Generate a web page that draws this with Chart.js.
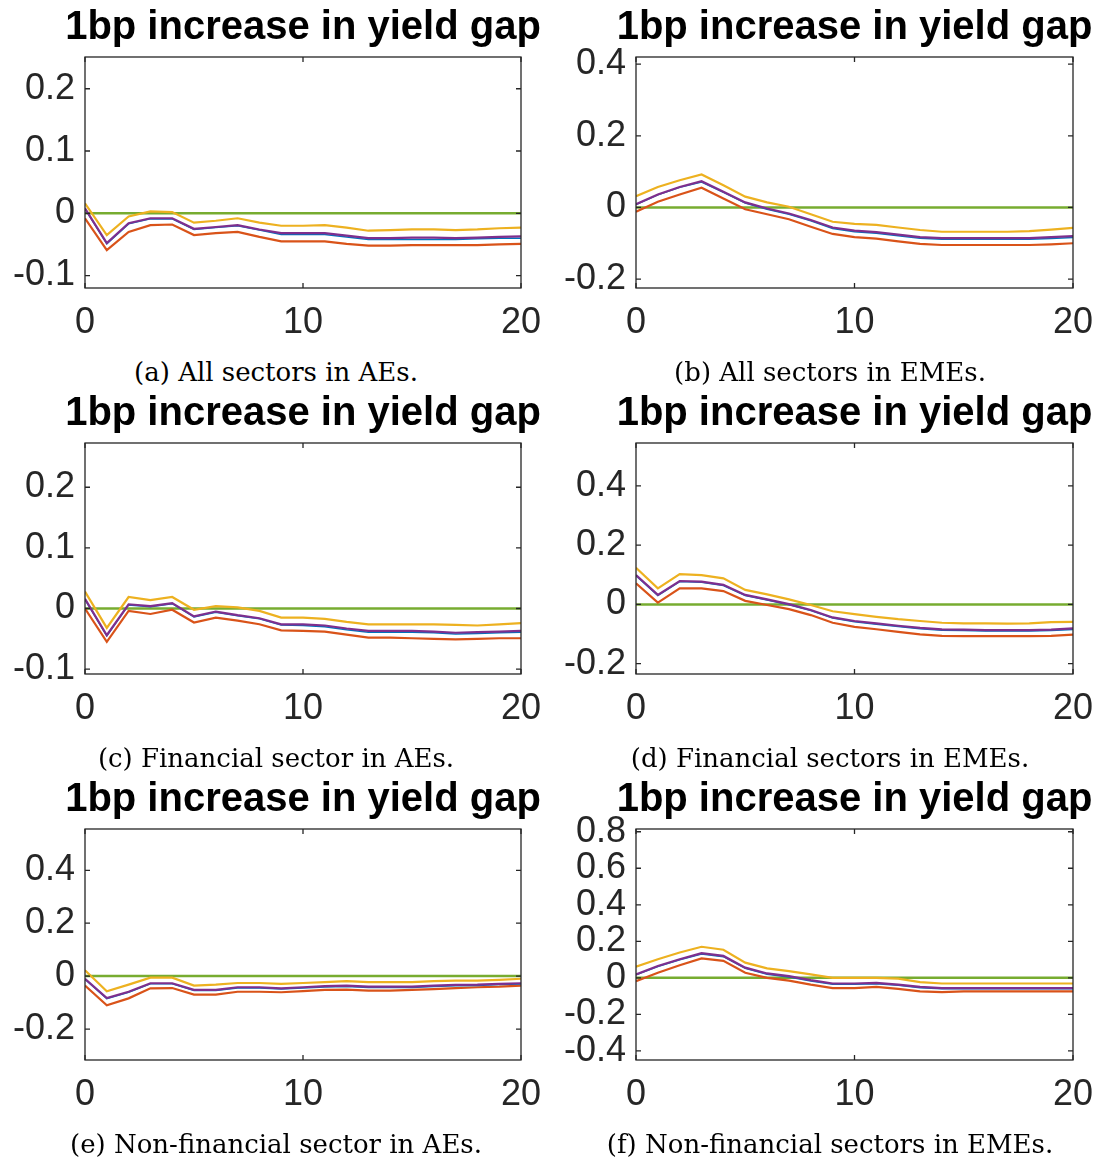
<!DOCTYPE html>
<html>
<head>
<meta charset="utf-8">
<script src="https://cdn.jsdelivr.net/npm/chart.js"></script>
<style>
  html, body { margin:0; padding:0; background:#fff; }
  body { width:1100px; height:1163px; position:relative; overflow:hidden; }
  .panel { position:absolute; width:550px; height:386px; }
  .panel canvas { position:absolute; left:0; top:0; }
  .cap { position:absolute; width:552px; top:355px; height:34px; line-height:34px;
         text-align:center; font-family:"DejaVu Serif", serif; font-size:26px; color:#000; white-space:nowrap; }
  .capL { left:0; }
  .capR { left:4px; }
</style>
</head>
<body>
<div class="panel" style="left:0;top:0"><canvas id="ca" width="606" height="345"></canvas><div class="cap capL" id="capa"></div></div>
<div class="panel" style="left:550px;top:0"><canvas id="cb" width="609" height="345"></canvas><div class="cap capR" id="capb"></div></div>
<div class="panel" style="left:0;top:386px"><canvas id="cc" width="606" height="345"></canvas><div class="cap capL" id="capc"></div></div>
<div class="panel" style="left:550px;top:386px"><canvas id="cd" width="609" height="345"></canvas><div class="cap capR" id="capd"></div></div>
<div class="panel" style="left:0;top:772px"><canvas id="ce" width="606" height="345"></canvas><div class="cap capL" id="cape"></div></div>
<div class="panel" style="left:550px;top:772px"><canvas id="cf" width="609" height="345"></canvas><div class="cap capR" id="capf"></div></div>
<script>
// ---- Data ----
const horizons = [0,1,2,3,4,5,6,7,8,9,10,11,12,13,14,15,16,17,18,19,20];
const xTicks = [0, 10, 20];
const titleText = "1bp increase in yield gap";
const zeroLine = [0,0,0,0,0,0,0,0,0,0,0,0,0,0,0,0,0,0,0,0,0];

// (a) All sectors in AEs
const aUpper = [0.016,-0.035,-0.005,0.003,0.002,-0.015,-0.012,-0.008,-0.015,-0.020,-0.020,-0.019,-0.023,-0.028,-0.027,-0.026,-0.026,-0.027,-0.026,-0.024,-0.023];
const aMean  = [0.008,-0.048,-0.016,-0.008,-0.008,-0.025,-0.022,-0.019,-0.026,-0.032,-0.032,-0.032,-0.036,-0.040,-0.040,-0.039,-0.039,-0.040,-0.039,-0.038,-0.037];
const aMed   = [0.007,-0.049,-0.017,-0.009,-0.009,-0.026,-0.023,-0.020,-0.027,-0.034,-0.034,-0.034,-0.038,-0.042,-0.042,-0.042,-0.042,-0.042,-0.041,-0.040,-0.040];
const aLower = [-0.008,-0.059,-0.030,-0.019,-0.018,-0.035,-0.032,-0.030,-0.038,-0.045,-0.045,-0.045,-0.049,-0.052,-0.052,-0.051,-0.051,-0.051,-0.051,-0.050,-0.049];
const aTicks = [-0.1, 0, 0.1, 0.2];
const aTickLabels = ["-0.1", "0", "0.1", "0.2"];
const aRange = [-0.12, 0.251];
const aCaption = "(a) All sectors in AEs.";

// (b) All sectors in EMEs
const bUpper = [0.031,0.057,0.076,0.092,0.062,0.030,0.014,0.002,-0.019,-0.040,-0.046,-0.049,-0.056,-0.063,-0.068,-0.068,-0.068,-0.068,-0.066,-0.062,-0.057];
const bMean  = [0.009,0.036,0.057,0.073,0.044,0.014,-0.003,-0.017,-0.035,-0.056,-0.065,-0.069,-0.076,-0.083,-0.086,-0.086,-0.086,-0.086,-0.086,-0.083,-0.080];
const bMed   = [0.008,0.035,0.056,0.071,0.042,0.012,-0.005,-0.019,-0.037,-0.059,-0.068,-0.072,-0.079,-0.086,-0.089,-0.089,-0.089,-0.089,-0.089,-0.087,-0.084];
const bLower = [-0.012,0.016,0.036,0.055,0.025,-0.005,-0.019,-0.033,-0.054,-0.074,-0.083,-0.087,-0.095,-0.102,-0.105,-0.105,-0.105,-0.105,-0.105,-0.103,-0.100];
const bTicks = [-0.2, 0, 0.2, 0.4];
const bTickLabels = ["-0.2", "0", "0.2", "0.4"];
const bRange = [-0.225, 0.42];
const bCaption = "(b) All sectors in EMEs.";

// (c) Financial sector in AEs
const cUpper = [0.028,-0.032,0.019,0.014,0.019,-0.002,0.004,0.002,-0.004,-0.015,-0.015,-0.017,-0.022,-0.026,-0.026,-0.026,-0.026,-0.027,-0.028,-0.026,-0.024];
const cMean  = [0.016,-0.044,0.007,0.004,0.009,-0.013,-0.005,-0.011,-0.016,-0.026,-0.026,-0.028,-0.033,-0.037,-0.037,-0.037,-0.038,-0.040,-0.039,-0.038,-0.037];
const cMed   = [0.015,-0.045,0.006,0.003,0.008,-0.014,-0.006,-0.012,-0.017,-0.027,-0.028,-0.030,-0.035,-0.039,-0.039,-0.039,-0.040,-0.042,-0.041,-0.040,-0.039];
const cLower = [0.000,-0.055,-0.004,-0.009,-0.002,-0.023,-0.015,-0.020,-0.026,-0.036,-0.037,-0.038,-0.043,-0.048,-0.048,-0.049,-0.050,-0.051,-0.050,-0.049,-0.049];
const cTicks = [-0.1, 0, 0.1, 0.2];
const cTickLabels = ["-0.1", "0", "0.1", "0.2"];
const cRange = [-0.108, 0.273];
const cCaption = "(c) Financial sector in AEs.";

// (d) Financial sectors in EMEs
const dUpper = [0.124,0.054,0.102,0.099,0.088,0.049,0.034,0.017,-0.002,-0.023,-0.033,-0.042,-0.050,-0.056,-0.062,-0.064,-0.064,-0.065,-0.064,-0.060,-0.059];
const dMean  = [0.099,0.032,0.079,0.077,0.066,0.032,0.017,0.001,-0.019,-0.044,-0.056,-0.064,-0.072,-0.079,-0.084,-0.085,-0.087,-0.087,-0.087,-0.085,-0.081];
const dMed   = [0.097,0.030,0.077,0.075,0.064,0.030,0.015,-0.001,-0.021,-0.046,-0.059,-0.067,-0.075,-0.082,-0.087,-0.088,-0.090,-0.090,-0.090,-0.088,-0.085];
const dLower = [0.071,0.006,0.054,0.054,0.045,0.012,-0.002,-0.016,-0.036,-0.062,-0.076,-0.084,-0.093,-0.101,-0.106,-0.107,-0.107,-0.107,-0.107,-0.106,-0.102];
const dTicks = [-0.2, 0, 0.2, 0.4];
const dTickLabels = ["-0.2", "0", "0.2", "0.4"];
const dRange = [-0.235, 0.545];
const dCaption = "(d) Financial sectors in EMEs.";

// (e) Non-financial sector in AEs
const eUpper = [0.022,-0.057,-0.032,-0.006,-0.006,-0.036,-0.032,-0.026,-0.026,-0.029,-0.026,-0.023,-0.019,-0.023,-0.023,-0.023,-0.019,-0.017,-0.017,-0.014,-0.010];
const eMean  = [-0.010,-0.083,-0.059,-0.027,-0.027,-0.052,-0.052,-0.042,-0.042,-0.046,-0.042,-0.038,-0.036,-0.040,-0.040,-0.040,-0.036,-0.033,-0.032,-0.029,-0.027];
const eMed   = [-0.012,-0.085,-0.061,-0.029,-0.029,-0.054,-0.054,-0.045,-0.045,-0.049,-0.045,-0.041,-0.039,-0.043,-0.043,-0.043,-0.039,-0.036,-0.035,-0.032,-0.030];
const eLower = [-0.036,-0.110,-0.084,-0.046,-0.045,-0.070,-0.070,-0.059,-0.059,-0.061,-0.057,-0.052,-0.051,-0.055,-0.055,-0.052,-0.049,-0.045,-0.042,-0.040,-0.036];
const eTicks = [-0.2, 0, 0.2, 0.4];
const eTickLabels = ["-0.2", "0", "0.2", "0.4"];
const eRange = [-0.317, 0.556];
const eCaption = "(e) Non-financial sector in AEs.";

// (f) Non-financial sectors in EMEs
const fUpper = [0.061,0.102,0.139,0.170,0.154,0.083,0.052,0.037,0.019,0.000,0.000,0.000,-0.004,-0.024,-0.031,-0.031,-0.031,-0.031,-0.031,-0.031,-0.031];
const fMean  = [0.019,0.065,0.102,0.135,0.120,0.056,0.024,0.009,-0.013,-0.031,-0.031,-0.028,-0.037,-0.050,-0.056,-0.056,-0.056,-0.056,-0.056,-0.056,-0.056];
const fMed   = [0.016,0.062,0.099,0.131,0.116,0.052,0.020,0.005,-0.017,-0.035,-0.035,-0.032,-0.041,-0.054,-0.060,-0.060,-0.060,-0.060,-0.060,-0.060,-0.060];
const fLower = [-0.019,0.028,0.069,0.106,0.093,0.028,0.000,-0.015,-0.037,-0.056,-0.056,-0.050,-0.061,-0.074,-0.078,-0.074,-0.074,-0.074,-0.074,-0.074,-0.074];
const fTicks = [-0.4, -0.2, 0, 0.2, 0.4, 0.6, 0.8];
const fTickLabels = ["-0.4", "-0.2", "0", "0.2", "0.4", "0.6", "0.8"];
const fRange = [-0.45, 0.815];
const fCaption = "(f) Non-financial sectors in EMEs.";

// ---- Styling ----
const COLORS = { upper:"#EDB120", mean:"#7E2F8E", med:"#0072BD", lower:"#D95319", zero:"#77AC30" };
const AXIS_COLOR = "#262626";
const TICK_FONT = { family:"'Liberation Sans', Arial, sans-serif", size:36 };

const boxPlugin = {
  id: "matlabBox",
  afterDraw(chart) {
    const { ctx, chartArea: { left, right, top, bottom }, scales: { x, y } } = chart;
    ctx.save();
    ctx.strokeStyle = AXIS_COLOR;
    ctx.lineWidth = 1.3;
    ctx.strokeRect(left, top, right - left, bottom - top);
    const tl = 5;
    ctx.beginPath();
    x.ticks.forEach(t => {
      const px = x.getPixelForValue(t.value);
      ctx.moveTo(px, bottom); ctx.lineTo(px, bottom - tl);
      ctx.moveTo(px, top); ctx.lineTo(px, top + tl);
    });
    y.ticks.forEach(t => {
      const py = y.getPixelForValue(t.value);
      ctx.moveTo(left, py); ctx.lineTo(left + tl, py);
      ctx.moveTo(right, py); ctx.lineTo(right - tl, py);
    });
    ctx.stroke();
    ctx.restore();
  }
};

function line(vals, color, w) {
  return {
    data: horizons.map((h, i) => ({ x: h, y: vals[i] })),
    borderColor: color, borderWidth: w, pointRadius: 0, tension: 0, fill: false, yAxisID: "y"
  };
}

// The canvas is made symmetric around the axes box (a blank spacer axis on the right)
// so that the title is centred over the axes, as in the original figure.
function makePanel(id, capId, upper, mean, med, lower, ticks, tickLabels, range, caption, yW) {
  document.getElementById(capId).textContent = caption;
  new Chart(document.getElementById(id), {
    type: "line",
    data: {
      datasets: [
        line(mean, COLORS.mean, 2.2),
        line(med, COLORS.med, 1.5),
        line(lower, COLORS.lower, 2.2),
        line(upper, COLORS.upper, 2.2),
        line(zeroLine, COLORS.zero, 2.5)
      ]
    },
    options: {
      responsive: false,
      animation: false,
      events: [],
      layout: { padding: 0 },
      plugins: {
        legend: { display: false },
        tooltip: { enabled: false },
        title: {
          display: true, text: titleText, fullSize: true, color: "#000",
          font: { family: "'Liberation Sans', Arial, sans-serif", size: 40, weight: "bold", lineHeight: 1.0 },
          padding: { top: 8, bottom: 9 }
        }
      },
      scales: {
        x: {
          type: "linear", min: horizons[0], max: horizons[horizons.length - 1],
          grid: { display: false, drawTicks: false },
          border: { display: false },
          afterBuildTicks: s => { s.ticks = xTicks.map(v => ({ value: v })); },
          afterFit: s => { s.height = 57; s.paddingLeft = 0; s.paddingRight = 0; },
          ticks: { color: AXIS_COLOR, font: TICK_FONT, padding: 13, maxRotation: 0, autoSkip: false,
                   callback: v => String(v) }
        },
        y: {
          type: "linear", position: "left", min: range[0], max: range[1],
          grid: { display: false, drawTicks: false },
          border: { display: false },
          afterBuildTicks: s => { s.ticks = ticks.map(v => ({ value: v })); },
          afterFit: s => { s.width = yW; s.paddingTop = 0; s.paddingBottom = 0; },
          ticks: { color: AXIS_COLOR, font: TICK_FONT, padding: 10, autoSkip: false,
                   callback: (v) => { const i = ticks.indexOf(v); return i >= 0 ? tickLabels[i] : ""; } }
        },
        spacer: {
          type: "linear", position: "right", min: range[0], max: range[1],
          grid: { display: false, drawTicks: false },
          border: { display: false },
          ticks: { display: false },
          afterFit: s => { s.width = yW; s.paddingTop = 0; s.paddingBottom = 0; }
        }
      }
    },
    plugins: [boxPlugin]
  });
}

makePanel("ca", "capa", aUpper, aMean, aMed, aLower, aTicks, aTickLabels, aRange, aCaption, 85);
makePanel("cb", "capb", bUpper, bMean, bMed, bLower, bTicks, bTickLabels, bRange, bCaption, 86);
makePanel("cc", "capc", cUpper, cMean, cMed, cLower, cTicks, cTickLabels, cRange, cCaption, 85);
makePanel("cd", "capd", dUpper, dMean, dMed, dLower, dTicks, dTickLabels, dRange, dCaption, 86);
makePanel("ce", "cape", eUpper, eMean, eMed, eLower, eTicks, eTickLabels, eRange, eCaption, 85);
makePanel("cf", "capf", fUpper, fMean, fMed, fLower, fTicks, fTickLabels, fRange, fCaption, 86);
</script>
</body>
</html>
